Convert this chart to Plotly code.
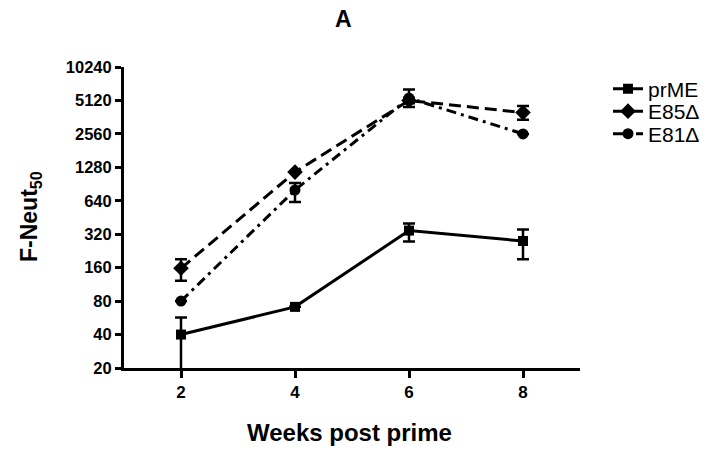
import plotly.graph_objects as go

# Neutralisation titres (F-Neut50) by week after the prime
weeks = [2, 4, 6, 8]

prme = [40, 71, 345, 278]
prme_err_plus = [17, 0, 55, 75]
prme_err_minus = [22, 0, 70, 88]

e85 = [158, 1160, 5120, 3980]
e85_err_plus = [32, 0, 300, 580]
e85_err_minus = [36, 0, 300, 550]

e81 = [80, 800, 5380, 2560]
e81_err_plus = [0, 125, 1050, 0]
e81_err_minus = [0, 175, 920, 0]

y_ticks = [20, 40, 80, 160, 320, 640, 1280, 2560, 5120, 10240]
x_ticks = [2, 4, 6, 8]

FONT = "Liberation Sans, Arial, sans-serif"

# plot area in pixels
L, R, T, B = 124, 580, 67, 368
W = R - L
H = B - T


def px_x(x):
    return (x - L) / W


def px_y(y):
    return (B - y) / H


fig = go.Figure()


def add_series(name, y, ep, em, symbol, size, dash, legend, row_y):
    fig.add_trace(go.Scatter(
        x=weeks, y=y, name=name, mode="lines+markers", legend=legend,
        line=dict(color="black", width=3, dash=dash),
        marker=dict(symbol=symbol, size=size, color="black"),
        error_y=dict(type="data", symmetric=False, array=ep, arrayminus=em,
                     color="black", thickness=2.5, width=6),
    ))
    fig.update_layout({legend: dict(
        x=px_x(608), y=px_y(row_y), xanchor="left", yanchor="middle",
        font=dict(size=21, family=FONT), bgcolor="rgba(0,0,0,0)",
        borderwidth=0,
    )})


add_series("prME", prme, prme_err_plus, prme_err_minus,
           "square", 10, "solid", "legend", 89)
add_series("E85Δ", e85, e85_err_plus, e85_err_minus,
           "diamond", 12, "12px,6px", "legend2", 111.5)
add_series("E81Δ", e81, e81_err_plus, e81_err_minus,
           "circle", 11, "10px,5px,3px,5px", "legend3", 134)

fig.update_layout(
    width=723, height=450,
    margin=dict(l=L, r=723 - R, t=T, b=450 - B),
    paper_bgcolor="white", plot_bgcolor="white",
    font=dict(family=FONT, color="black"),
    showlegend=True,
    xaxis=dict(
        range=[1, 9], tickvals=x_ticks, ticktext=[str(v) for v in x_ticks],
        showline=True, linecolor="black", linewidth=3,
        ticks="outside", ticklen=7, tickwidth=3, tickcolor="black",
        showgrid=False, zeroline=False,
        tickfont=dict(size=17, family=FONT, weight="bold"),
    ),
    yaxis=dict(
        type="log", range=[1.30103, 4.0103],
        tickvals=y_ticks, ticktext=[str(v) for v in y_ticks],
        showline=True, linecolor="black", linewidth=3,
        ticks="outside", ticklen=6, tickwidth=3, tickcolor="black",
        showgrid=False, zeroline=False,
        tickfont=dict(size=16.5, family=FONT, weight="bold"),
    ),
    annotations=[
        dict(text="<b>A</b>", xref="paper", yref="paper",
             x=px_x(343), y=px_y(19),
             xanchor="center", yanchor="middle", showarrow=False,
             font=dict(size=23, family=FONT)),
        dict(text="<b>Weeks post prime</b>", xref="paper", yref="paper",
             x=px_x(349), y=px_y(432),
             xanchor="center", yanchor="middle", showarrow=False,
             font=dict(size=24, family=FONT)),
        dict(text="<b>F-Neut<sub>50</sub></b>", xref="paper", yref="paper",
             x=px_x(30), y=px_y(217), textangle=-90,
             xanchor="center", yanchor="middle", showarrow=False,
             font=dict(size=23, family=FONT)),
    ],
)

fig.write_html("out.html")
